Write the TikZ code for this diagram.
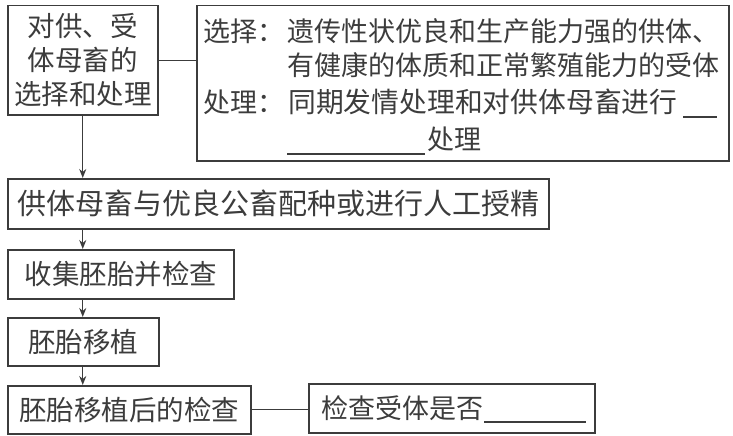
\documentclass[tikz,border=0pt]{standalone}
\usepackage{fontspec}
\setmainfont{Noto Sans CJK SC}
\usetikzlibrary{arrows.meta}
\definecolor{ink}{HTML}{3C3C3C}
\begin{document}
\begin{tikzpicture}[x=1pt,y=-1pt,
  box/.style={draw=ink, line width=1.5pt, inner sep=0pt, anchor=north west},
  txt/.style={text=ink, inner sep=0pt, font=\fontsize{27.5pt}{34pt}\selectfont},
  btxt/.style={text=ink, inner sep=0pt, anchor=west, font=\fontsize{27pt}{34pt}\selectfont},
  arr/.style={draw=ink, line width=1.4pt, -{Stealth[length=9pt,width=7pt]}},
  link/.style={draw=ink, line width=1.4pt},
  blank/.style={draw=ink, line width=1.3pt}]
\useasboundingbox (0,0) rectangle (733,436);
% boxes
\node[box, minimum width=150pt, minimum height=109pt] (A) at (7,5) {};
\node[txt, align=center] (At) at (A.center) {对供、受\\体母畜的\\选择和处理};
\node[box, minimum width=532pt, minimum height=155pt] (B) at (196,5) {};
\node[btxt] (b1l) at (203,31) {选择：};
\node[btxt] (b1) at (287,31) {遗传性状优良和生产能力强的供体、};
\node[btxt] (b2) at (287,65) {有健康的体质和正常繁殖能力的受体};
\node[btxt] (b3l) at (203,102) {处理：};
\node[btxt, font=\fontsize{27.8pt}{34pt}\selectfont] (b3) at (288,102) {同期发情处理和对供体母畜进行};
\node[btxt] (b4) at (427,139) {处理};
\draw[blank] (683,117) -- (717,117);
\draw[blank] (287,154) -- (425,154);
\node[box, minimum width=541pt, minimum height=50pt] (C) at (7,178) {};
\node[txt, font=\fontsize{29pt}{34pt}\selectfont] (Ct) at (C.center) {供体母畜与优良公畜配种或进行人工授精};
\node[box, minimum width=226pt, minimum height=49pt] (D) at (7,249) {};
\node[txt] (Dt) at (D.center) {收集胚胎并检查};
\node[box, minimum width=151pt, minimum height=48pt] (E) at (7,317) {};
\node[txt] (Et) at (E.center) {胚胎移植};
\node[box, minimum width=243pt, minimum height=48pt] (F) at (7,385) {};
\node[txt] (Ft) at (F.center) {胚胎移植后的检查};
\node[box, minimum width=286pt, minimum height=49pt] (G) at (308,383) {};
\node[btxt] (Gt) at (321,408) {检查受体是否};
\draw[blank] (484,422) -- (586,422);
% connectors
\draw[link] (A.east) -- (A.east -| B.west);
\draw[arr] (A.south) -- (A.south |- C.north);
\draw[arr] (C.south -| A.south) -- (D.north -| A.south);
\draw[arr] (D.south -| A.south) -- (E.north -| A.south);
\draw[arr] (E.south -| A.south) -- (F.north -| A.south);
\draw[link] (F.east) -- (F.east -| G.west);
\end{tikzpicture}
\end{document}
